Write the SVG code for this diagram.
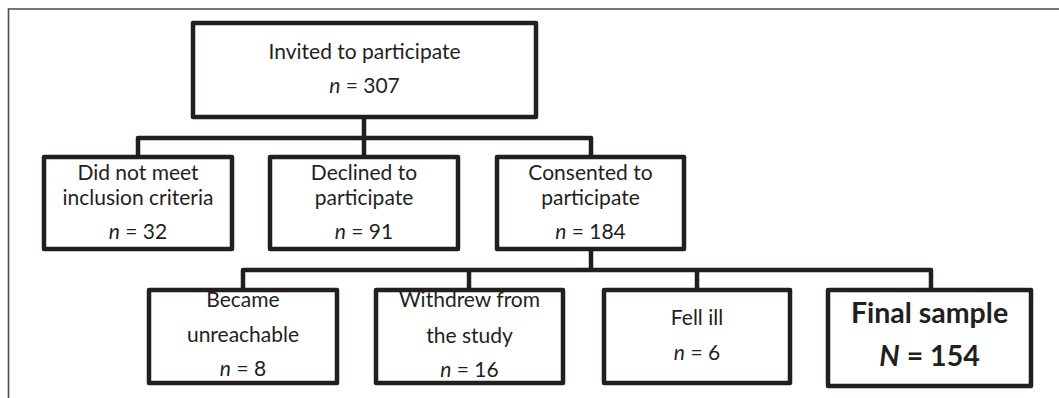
<svg xmlns="http://www.w3.org/2000/svg" width="1059" height="398" viewBox="0 0 1059 398">
<style>
.box{fill:#fff;stroke:#231f20;stroke-width:4.5;stroke-linejoin:round}
.con{fill:none;stroke:#231f20;stroke-width:4.5;stroke-linejoin:round}
.t{font-family:Lato,"Open Sans","Liberation Sans",sans-serif;font-size:21px;fill:#231f20;text-anchor:middle}
.b{font-family:Lato,"Open Sans","Liberation Sans",sans-serif;font-size:28.5px;font-weight:bold;fill:#231f20;text-anchor:middle}
.i{font-style:italic}
</style>
<rect width="1059" height="398" fill="#fff"/>
<path d="M8.5 398 V9 H1059" fill="none" stroke="#4d4d4d" stroke-width="1.6"/>
<g id="connectors">
<path class="con" d="M364 117 V138 M138 157 V138 H591 V157 M364 138 V157"/>
<path class="con" d="M591 249 V270 M243 290 V270 H931 V290 M469 270 V290 M697 270 V290"/>
</g>
<g id="invited">
<rect class="box" x="193" y="23" width="343" height="94"/>
<text class="t" x="364.5" y="59">Invited to participate</text>
<text class="t" x="364.5" y="93"><tspan class="i">n</tspan> = 307</text>
</g>
<g id="not-meet">
<rect class="box" x="44" y="157" width="188" height="92"/>
<text class="t" x="138" y="180">Did not meet</text>
<text class="t" x="138" y="205">inclusion criteria</text>
<text class="t" x="138" y="239"><tspan class="i">n</tspan> = 32</text>
</g>
<g id="declined">
<rect class="box" x="270" y="157" width="188" height="92"/>
<text class="t" x="364" y="180">Declined to</text>
<text class="t" x="364" y="205">participate</text>
<text class="t" x="364" y="239"><tspan class="i">n</tspan> = 91</text>
</g>
<g id="consented">
<rect class="box" x="497" y="157" width="187" height="92"/>
<text class="t" x="590.5" y="180">Consented to</text>
<text class="t" x="590.5" y="205">participate</text>
<text class="t" x="590.5" y="239"><tspan class="i">n</tspan> = 184</text>
</g>
<g id="unreachable">
<rect class="box" x="149" y="290" width="188" height="93"/>
<text class="t" x="243" y="307">Became</text>
<text class="t" x="243" y="342">unreachable</text>
<text class="t" x="243" y="376"><tspan class="i">n</tspan> = 8</text>
</g>
<g id="withdrew">
<rect class="box" x="376" y="290" width="187" height="93"/>
<text class="t" x="469.5" y="307">Withdrew from</text>
<text class="t" x="469.5" y="343">the study</text>
<text class="t" x="469.5" y="377"><tspan class="i">n</tspan> = 16</text>
</g>
<g id="fell-ill">
<rect class="box" x="604" y="290" width="186" height="93"/>
<text class="t" x="697" y="325">Fell ill</text>
<text class="t" x="697" y="360"><tspan class="i">n</tspan> = 6</text>
</g>
<g id="final">
<rect class="box" x="828" y="290" width="203" height="96"/>
<text class="b" x="929.5" y="323">Final sample</text>
<text class="b" x="929.5" y="366"><tspan class="i">N</tspan> = 154</text>
</g>
</svg>
